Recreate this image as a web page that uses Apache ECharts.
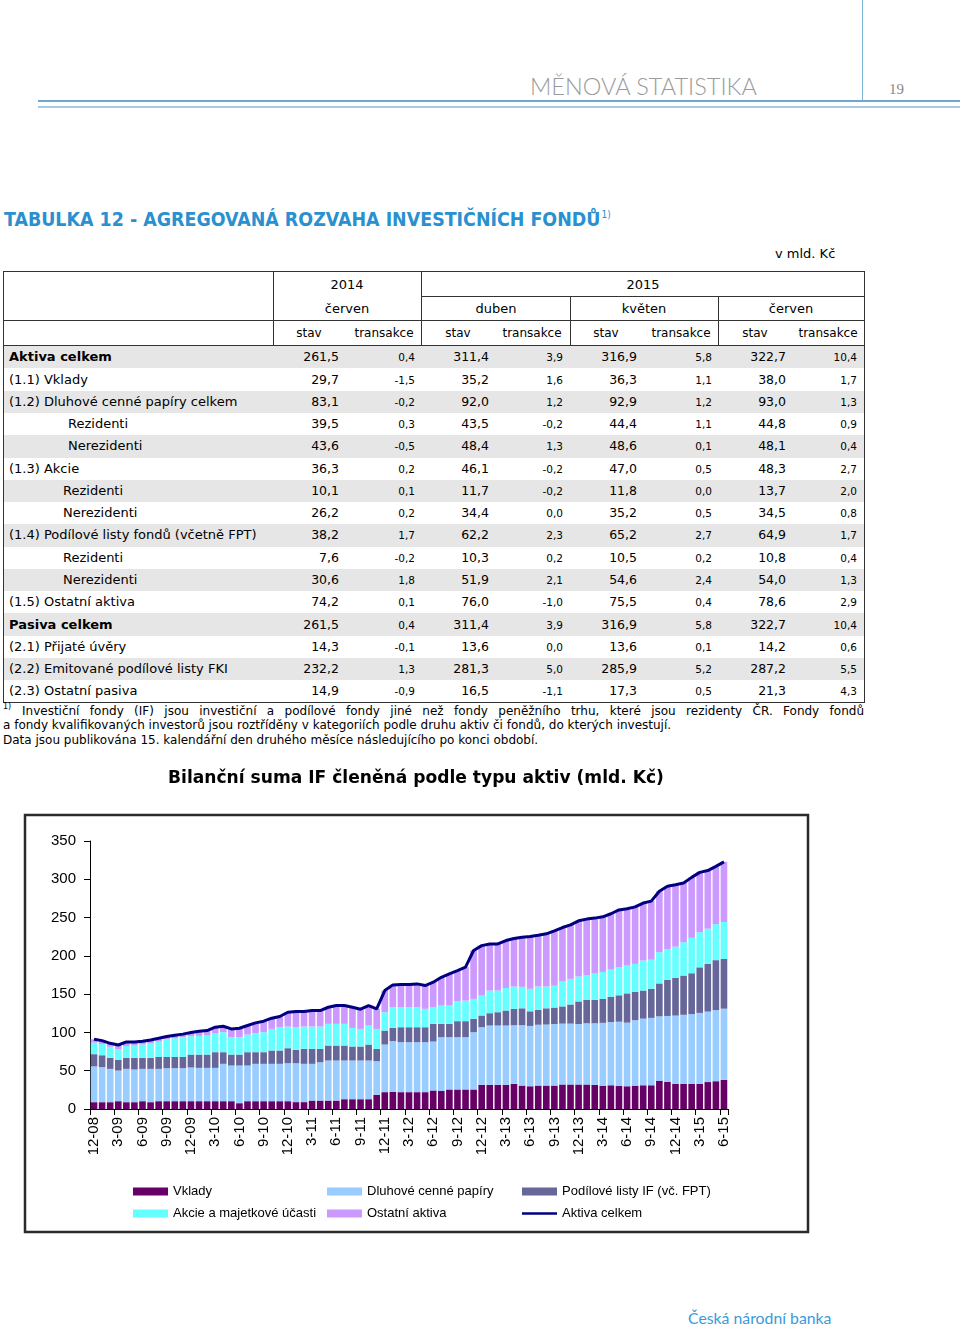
<!DOCTYPE html>
<html>
<head>
<meta charset="utf-8">
<script src="https://cdn.jsdelivr.net/npm/echarts@6/dist/echarts.min.js"></script>
<style>
html,body{margin:0;padding:0;background:#fff}
body{width:960px;height:1328px;position:relative;overflow:hidden;font-family:"DejaVu Sans",Verdana,sans-serif;color:#000}
.a{position:absolute;white-space:nowrap}
</style>
</head>
<body>
<div class="a" style="left:862px;top:0;width:1px;height:101px;background:#7ab3d4"></div>
<div class="a" style="left:38px;top:100px;width:922px;height:2px;background:#6fa8cc"></div>
<div class="a" style="left:38px;top:106px;width:922px;height:2px;background:#a6cbe2"></div>
<div class="a" style="left:530px;top:71px;height:30px;line-height:30px;font-family:Lato,'Open Sans',sans-serif;font-weight:300;font-size:23.5px;color:#9b9b9b">MĚNOVÁ STATISTIKA</div>
<div class="a" style="left:889px;top:79px;height:20px;line-height:20px;font-family:'Liberation Serif',serif;font-size:15px;color:#888">19</div>

<div class="a" style="left:4px;top:201px;height:28px;line-height:28px;font-family:'DejaVu Sans Condensed','DejaVu Sans',sans-serif;font-weight:bold;font-size:19.4px;color:#2a90cf">TABULKA 12 - AGREGOVANÁ ROZVAHA INVESTIČNÍCH FONDŮ<span style="font-size:10px;vertical-align:8px;font-weight:normal;color:#2a90cf;margin-left:1px">1)</span></div>
<div class="a" style="left:775px;top:245px;height:18px;line-height:18px;font-size:13px">v mld. Kč</div>

<div id="tbl"></div>

<div class="a" style="left:3px;top:702px;font-size:8px;line-height:10px">1)</div>
<div class="a" style="left:22px;top:703px;width:842px;height:16px;line-height:16px;font-size:12px;white-space:normal;text-align:justify;text-align-last:justify">Investiční fondy (IF) jsou investiční a podílové fondy jiné než fondy peněžního trhu, které jsou rezidenty ČR. Fondy fondů</div>
<div class="a" style="left:3px;top:717px;height:16px;line-height:16px;font-size:12px">a fondy kvalifikovaných investorů jsou roztříděny v kategoriích podle druhu aktiv či fondů, do kterých investují.</div>
<div class="a" style="left:3px;top:732px;height:16px;line-height:16px;font-size:12px">Data jsou publikována 15. kalendářní den druhého měsíce následujícího po konci období.</div>

<div id="chart" class="a" style="left:0;top:750px;width:960px;height:500px"></div>

<div class="a" style="left:688px;top:1308px;height:20px;line-height:20px;font-family:Lato,'Open Sans',sans-serif;font-size:15.8px;color:#3a9ad9">Česká národní banka</div>

<script>
// ---------------- TABLE DATA ----------------
const rowLabels = ['Aktiva celkem','(1.1) Vklady','(1.2) Dluhové cenné papíry celkem','Rezidenti','Nerezidenti','(1.3) Akcie','Rezidenti','Nerezidenti','(1.4) Podílové listy fondů (včetně FPT)','Rezidenti','Nerezidenti','(1.5) Ostatní aktiva','Pasiva celkem','(2.1) Přijaté úvěry','(2.2) Emitované podílové listy FKI','(2.3) Ostatní pasiva'];
const boldRows = [0, 12];
const rowIndent = [9,9,9,68,68,9,63,63,9,63,63,9,9,9,9,9];
const yearHeaders = ['2014','2015'];
const monthHeaders = ['červen','duben','květen','červen'];
const stavJun14 = [261.5,29.7,83.1,39.5,43.6,36.3,10.1,26.2,38.2,7.6,30.6,74.2,261.5,14.3,232.2,14.9];
const tranJun14 = [0.4,-1.5,-0.2,0.3,-0.5,0.2,0.1,0.2,1.7,-0.2,1.8,0.1,0.4,-0.1,1.3,-0.9];
const stavApr15 = [311.4,35.2,92.0,43.5,48.4,46.1,11.7,34.4,62.2,10.3,51.9,76.0,311.4,13.6,281.3,16.5];
const tranApr15 = [3.9,1.6,1.2,-0.2,1.3,-0.2,-0.2,0.0,2.3,0.2,2.1,-1.0,3.9,0.0,5.0,-1.1];
const stavMay15 = [316.9,36.3,92.9,44.4,48.6,47.0,11.8,35.2,65.2,10.5,54.6,75.5,316.9,13.6,285.9,17.3];
const tranMay15 = [5.8,1.1,1.2,1.1,0.1,0.5,0.0,0.5,2.7,0.2,2.4,0.4,5.8,0.1,5.2,0.5];
const stavJun15 = [322.7,38.0,93.0,44.8,48.1,48.3,13.7,34.5,64.9,10.8,54.0,78.6,322.7,14.2,287.2,21.3];
const tranJun15 = [10.4,1.7,1.3,0.9,0.4,2.7,2.0,0.8,1.7,0.4,1.3,2.9,10.4,0.6,5.5,4.3];

// ---------------- CHART DATA ----------------
const categories = ['12-08',
 '1-09','2-09','3-09','4-09','5-09','6-09','7-09','8-09','9-09','10-09','11-09','12-09',
 '1-10','2-10','3-10','4-10','5-10','6-10','7-10','8-10','9-10','10-10','11-10','12-10',
 '1-11','2-11','3-11','4-11','5-11','6-11','7-11','8-11','9-11','10-11','11-11','12-11',
 '1-12','2-12','3-12','4-12','5-12','6-12','7-12','8-12','9-12','10-12','11-12','12-12',
 '1-13','2-13','3-13','4-13','5-13','6-13','7-13','8-13','9-13','10-13','11-13','12-13',
 '1-14','2-14','3-14','4-14','5-14','6-14','7-14','8-14','9-14','10-14','11-14','12-14',
 '1-15','2-15','3-15','4-15','5-15','6-15'];
const vklady = [8.9,8.9,8.9,10.2,8.9,8.9,10.2,8.9,10.2,10.2,10.2,10.2,10.2,
 10.2,10.2,10.2,10.2,10.2,7.6,10.2,10.2,10.2,10.2,10.2,10.2,9.0,
 9.0,11.0,11.0,11.0,11.0,12.8,12.8,12.8,12.8,18.5,22.0,22.5,
 22.0,22.0,22.0,22.0,24.2,23.5,25.5,25.5,25.5,25.5,31.6,31.6,31.6,31.6,
 32.8,30.6,29.7,30.6,30.6,30.6,
 32.0,32.0,32.0,32.0,31.5,30.5,31.0,30.0,29.7,30.5,31.0,31.0,37.0,35.5,33.0,33.0,33.0,33.0,35.2,36.3,38.0];
const dluhove = [46.7,45.8,43.5,40.0,43.5,42.7,42.2,43.5,42.2,43.1,43.1,43.1,44.0,
 43.5,43.5,43.5,48.8,46.6,49.2,46.6,48.8,48.8,48.8,48.8,49.6,50.8,
 50.0,48.0,50.0,52.3,52.3,50.5,50.5,50.5,50.5,43.9,62.2,66.1,
 65.3,65.3,65.3,65.3,63.9,70.3,68.3,68.3,68.3,74.8,75.2,77.4,77.4,77.4,
 76.6,78.8,78.8,79.4,79.7,80.4,
 79.5,79.5,79.0,80.0,80.5,82.0,82.5,84.0,83.1,85.5,87.0,88.0,84.0,86.0,89.0,90.0,91.0,92.5,92.0,92.9,93.0];
const podilove = [16.0,15.5,14.3,14.2,14.3,15.1,14.3,14.3,15.6,14.7,14.7,14.7,16.9,
 17.4,17.4,20.5,15.2,14.3,14.3,17.4,15.2,15.2,17.4,17.4,19.6,17.4,
 19.5,19.5,17.5,19.6,19.6,19.6,18.3,18.3,20.9,16.1,18.2,17.3,
 19.5,19.5,19.5,19.5,23.1,17.4,17.4,20.9,20.9,17.5,15.3,16.1,17.4,19.6,
 21.3,22.1,19.1,19.4,21.2,21.5,
 22.5,25.0,29.5,30.4,30.4,31.2,33.2,34.5,38.2,37.0,36.7,38.0,43.0,47.1,49.3,51.3,53.3,59.5,62.2,65.2,64.9];
const akcie = [15.1,14.7,14.6,13.8,15.5,16.9,17.7,19.1,20.0,23.1,24.4,25.8,23.9,
 24.4,24.9,24.8,26.1,22.7,22.7,23.0,24.8,26.1,28.2,30.4,28.3,29.6,
 29.2,29.2,29.2,28.3,28.3,28.3,24.3,23.0,24.8,26.1,24.0,27.0,
 26.1,26.1,26.1,24.0,21.7,23.9,23.9,26.0,26.9,26.0,26.1,29.6,28.3,29.4,
 29.3,28.0,29.4,30.6,28.5,28.5,
 32.5,33.5,32.5,32.6,34.6,35.3,35.3,36.5,36.3,36.5,39.2,38.0,40.7,40.4,40.7,43.5,46.2,45.8,46.1,47.0,48.3];
const ostatni = [4.4,4.4,4.5,5.4,5.4,4.0,4.0,4.4,4.4,3.6,4.0,4.0,5.0,
 6.1,6.4,7.8,7.8,10.8,11.7,11.8,13.5,14.4,14.0,14.0,18.7,20.5,
 19.6,20.9,20.9,21.7,23.9,23.9,27.0,25.7,26.1,26.2,28.3,29.2,
 29.6,29.6,30.5,30.4,32.7,36.9,41.4,40.1,43.6,63.2,65.2,60.9,60.9,62.0,
 62.7,64.9,68.3,67.0,68.8,71.7,
 70.5,70.5,72.8,73.0,72.3,72.0,73.0,75.0,74.2,74.5,75.1,76.5,79.7,81.8,80.9,77.4,79.0,78.2,76.0,75.5,78.6];
const aktivaCelkem = [91.1,89.3,85.8,83.6,87.6,87.6,88.4,90.2,92.4,94.7,96.4,97.8,100.0,
 101.6,102.4,106.8,108.1,104.6,105.5,109.0,112.5,114.7,118.6,120.8,126.4,127.3,
 127.3,128.6,128.6,132.9,135.1,135.1,132.9,130.3,135.1,130.8,154.7,162.1,
 162.5,162.5,163.4,161.2,165.6,172.0,176.5,180.8,185.2,207.0,213.4,215.6,215.6,220.0,
 222.7,224.4,225.3,227.0,228.8,232.7,
 237.0,240.5,245.8,248.0,249.3,251.0,255.0,260.0,261.5,264.0,269.0,271.5,284.4,290.8,292.9,295.2,302.5,309.0,311.4,316.9,322.7];
const yTicks = {min:0, max:350, interval:50};
const seriesNames = ['Vklady','Dluhové cenné papíry','Podílové listy IF (vč. FPT)','Akcie a majetkové účasti','Ostatní aktiva','Aktiva celkem'];

// ---------------- BUILD TABLE ----------------
(function(){
  const t = document.getElementById('tbl');
  function txt(s, left, cy, opts){
    opts = opts || {};
    const d = document.createElement('div');
    d.className = 'a';
    const h = 20;
    d.style.top = (cy - h/2) + 'px';
    d.style.height = h + 'px';
    d.style.lineHeight = h + 'px';
    d.style.fontSize = (opts.fs || 12.5) + 'px';
    if (opts.bold) d.style.fontWeight = 'bold';
    if (opts.align === 'right') { d.style.left = (left - 120) + 'px'; d.style.width = '120px'; d.style.textAlign = 'right'; }
    else if (opts.align === 'center') { d.style.left = (left - 70) + 'px'; d.style.width = '140px'; d.style.textAlign = 'center'; }
    else d.style.left = left + 'px';
    d.textContent = s;
    t.appendChild(d);
  }
  function rect(x, y, w, h, c){
    const d = document.createElement('div');
    d.className = 'a';
    d.style.left = x + 'px'; d.style.top = y + 'px'; d.style.width = w + 'px'; d.style.height = h + 'px';
    d.style.background = c;
    t.appendChild(d);
  }
  const fmt = v => v.toFixed(1).replace('.', ',');
  const rowH = 22.27, firstC = 357.3;
  rowLabels.forEach((_, i) => { if (i % 2 === 0) rect(3, firstC + i*rowH - rowH/2, 861, rowH, '#e6e6e6'); });
  const L = '#333';
  rect(3, 271, 862, 1, L);
  rect(421, 296, 444, 1, L);
  rect(3, 320, 862, 1, L);
  rect(3, 345, 862, 1, L);
  rect(3, 702, 862, 1, L);
  rect(3, 271, 1, 432, L);
  rect(864, 271, 1, 432, L);
  rect(273, 271, 1, 75, L);
  rect(421, 271, 1, 75, L);
  rect(570, 296, 1, 50, L);
  rect(718, 296, 1, 50, L);
  txt(yearHeaders[0], 347, 285, {align:'center', fs:13});
  txt(yearHeaders[1], 643, 285, {align:'center', fs:13});
  const mC = [347, 496, 644, 791];
  monthHeaders.forEach((m, i) => txt(m, mC[i], 309, {align:'center', fs:13}));
  const sC = [309, 458, 606, 755], trC = [384, 532, 681, 828];
  for (let i = 0; i < 4; i++) { txt('stav', sC[i], 333, {align:'center', fs:12}); txt('transakce', trC[i], 333, {align:'center', fs:12}); }
  const stav = [stavJun14, stavApr15, stavMay15, stavJun15];
  const tran = [tranJun14, tranApr15, tranMay15, tranJun15];
  const sR = [339, 489, 637, 786], tR = [415, 563, 712, 857];
  rowLabels.forEach((lab, i) => {
    const cy = firstC + i*rowH;
    txt(lab, rowIndent[i], cy, {bold: boldRows.includes(i), fs:13});
    for (let c = 0; c < 4; c++) {
      txt(fmt(stav[c][i]), sR[c], cy, {align:'right', fs:12.5});
      txt(fmt(tran[c][i]), tR[c], cy, {align:'right', fs:10.5});
    }
  });
})();

// ---------------- CHART ----------------
const chart = echarts.init(document.getElementById('chart'));
const colors = ['#660066', '#99ccff', '#666699', '#66ffff', '#cc99ff', '#000080'];
const barData = [vklady, dluhove, podilove, akcie, ostatni];
const series = barData.map((d, i) => ({
  name: seriesNames[i], type: 'bar', stack: 'total', data: d,
  itemStyle: {color: colors[i]}, barCategoryGap: '18%', animation: false
}));
series.push({
  name: seriesNames[5], type: 'line', data: aktivaCelkem, symbol: 'none', showSymbol: false,
  lineStyle: {color: colors[5], width: 3}, itemStyle: {color: colors[5]}, z: 10, animation: false
});
const legendLeft = [133, 327, 522];
const legends = seriesNames.map((n, i) => {
  const isLine = i === 5;
  return {
    data: [{name: n, icon: 'rect'}], left: legendLeft[i % 3], top: i < 3 ? 435 : 457, padding: 0,
    itemWidth: 35, itemHeight: isLine ? 2.5 : 8, itemGap: 0, selectedMode: false,
    textStyle: {fontSize: 13, fontFamily: "'Liberation Sans', Arial, sans-serif", color: '#000'}
  };
});
chart.setOption({
  animation: false,
  title: {
    text: 'Bilanční suma IF členěná podle typu aktiv (mld. Kč)', left: 168, top: 20, padding: 0,
    textStyle: {fontFamily: "'DejaVu Sans', Verdana, sans-serif", fontWeight: 'bold', fontSize: 17.1, color: '#000'}
  },
  graphic: [{
    type: 'rect', silent: true, z: -1,
    shape: {x: 25, y: 65, width: 783, height: 417},
    style: {fill: 'none', stroke: '#2a2a2a', lineWidth: 2.5}
  }],
  grid: {left: 90, top: 91, width: 638, height: 268, containLabel: false, outerBoundsMode: 'none'},
  xAxis: {
    type: 'category', data: categories, boundaryGap: true,
    axisLine: {show: true, lineStyle: {color: '#000', width: 1}},
    axisTick: {show: true, interval: 2, length: 6, lineStyle: {color: '#000'}},
    axisLabel: {interval: 2, rotate: 90, fontSize: 15, fontFamily: "'Liberation Sans', Arial, sans-serif", color: '#000', margin: 8, hideOverlap: false}
  },
  yAxis: {
    type: 'value', min: yTicks.min, max: yTicks.max, interval: yTicks.interval,
    splitLine: {show: false},
    axisLine: {show: true, lineStyle: {color: '#000', width: 1}},
    axisTick: {show: true, length: 6, lineStyle: {color: '#000'}},
    axisLabel: {fontSize: 15, fontFamily: "'Liberation Sans', Arial, sans-serif", color: '#000', margin: 14}
  },
  legend: legends,
  series: series
});
</script>
</body>
</html>
